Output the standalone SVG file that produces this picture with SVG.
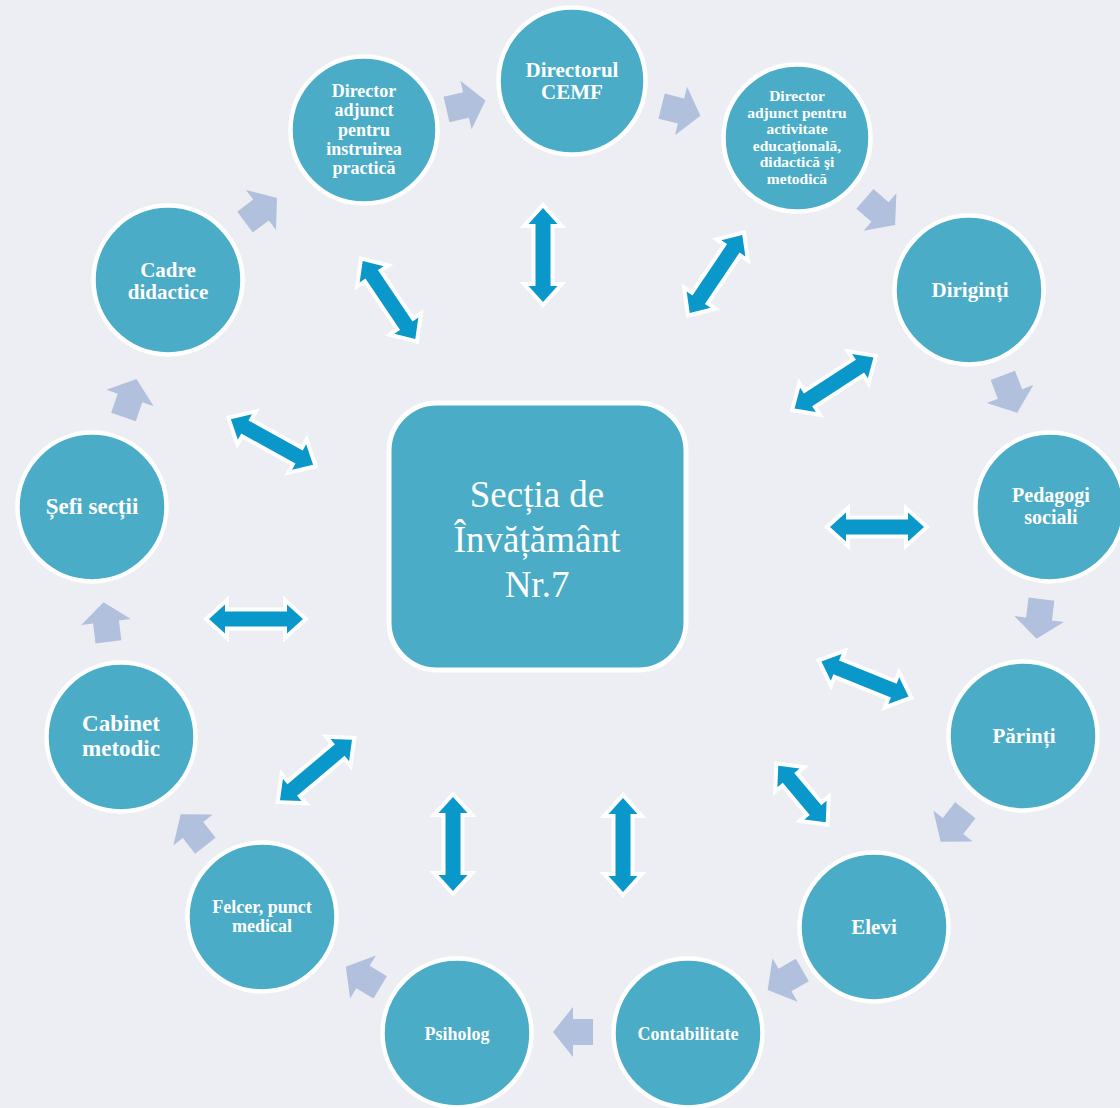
<svg xmlns="http://www.w3.org/2000/svg" xmlns:xlink="http://www.w3.org/1999/xlink" width="1120" height="1108" viewBox="0 0 1120 1108">
<style>
.node circle{fill:#4aacc6;stroke:#ffffff;stroke-width:4.5}
.lbl{font-family:"Liberation Serif","Times New Roman",serif;font-weight:bold;fill:#ffffff;text-anchor:middle}
.ctr{font-family:"Liberation Serif","Times New Roman",serif;fill:#ffffff;text-anchor:middle;font-size:37px}
.chev{fill:#b0c0dd}
.dbl{fill:#0a97c9;stroke:#ffffff;stroke-width:8;paint-order:stroke;stroke-linejoin:miter}
</style>
<defs>
<path id="chevron" d="M-20,-13 L0,-13 L0,-25 L20,0 L0,25 L0,13 L-20,13 Z"/>
<path id="dblarrow" d="M-47,0 L-31,-14.5 L-31,-7.5 L31,-7.5 L31,-14.5 L47,0 L31,14.5 L31,7.5 L-31,7.5 L-31,14.5 Z"/>
<path id="dblshort" d="M-37,0 L-21,-14.5 L-21,-7.5 L21,-7.5 L21,-14.5 L37,0 L21,14.5 L21,7.5 L-21,7.5 L-21,14.5 Z"/>
</defs>
<rect x="0" y="0" width="1120" height="1108" fill="#eceef3"/>

<g id="connectors">
<g class="chev">
<use xlink:href="#chevron" href="#chevron" transform="translate(466,105) rotate(-13)"/>
<use xlink:href="#chevron" href="#chevron" transform="translate(681,111) rotate(14)"/>
<use xlink:href="#chevron" href="#chevron" transform="translate(880,212) rotate(41)"/>
<use xlink:href="#chevron" href="#chevron" transform="translate(1010,394) rotate(69)"/>
<use xlink:href="#chevron" href="#chevron" transform="translate(1039,619) rotate(97)"/>
<use xlink:href="#chevron" href="#chevron" transform="translate(953,826) rotate(128)"/>
<use xlink:href="#chevron" href="#chevron" transform="translate(785,980) rotate(150)"/>
<use xlink:href="#chevron" href="#chevron" transform="translate(573,1032) rotate(180)"/>
<use xlink:href="#chevron" href="#chevron" transform="translate(363,977) rotate(-149)"/>
<use xlink:href="#chevron" href="#chevron" transform="translate(193,830) rotate(-128)"/>
<use xlink:href="#chevron" href="#chevron" transform="translate(106,622) rotate(-97)"/>
<use xlink:href="#chevron" href="#chevron" transform="translate(130,398) rotate(-71)"/>
<use xlink:href="#chevron" href="#chevron" transform="translate(261,210) rotate(-37)"/>
</g>
<g class="dbl">
<use xlink:href="#dblarrow" href="#dblarrow" transform="translate(543,255) rotate(90)"/>
<use xlink:href="#dblarrow" href="#dblarrow" transform="translate(389,300) rotate(56)"/>
<use xlink:href="#dblarrow" href="#dblarrow" transform="translate(716,274) rotate(-56)"/>
<use xlink:href="#dblarrow" href="#dblarrow" transform="translate(834,383) rotate(-33)"/>
<use xlink:href="#dblarrow" href="#dblarrow" transform="translate(877,527)"/>
<use xlink:href="#dblarrow" href="#dblarrow" transform="translate(865,679) rotate(22)"/>
<use xlink:href="#dblshort" href="#dblshort" transform="translate(802,794) rotate(50)"/>
<use xlink:href="#dblarrow" href="#dblarrow" transform="translate(623,845) rotate(90)"/>
<use xlink:href="#dblarrow" href="#dblarrow" transform="translate(453,844) rotate(90)"/>
<use xlink:href="#dblarrow" href="#dblarrow" transform="translate(316,770) rotate(-40)"/>
<use xlink:href="#dblarrow" href="#dblarrow" transform="translate(256,619)"/>
<use xlink:href="#dblarrow" href="#dblarrow" transform="translate(272,442) rotate(29)"/>
</g>
</g>

<g id="center">
<rect x="389" y="403" width="297" height="267" rx="48" ry="48" fill="#4aacc6" stroke="#ffffff" stroke-width="5"/>
<text class="ctr" x="537" y="507">Secția de</text>
<text class="ctr" x="537" y="552">Învățământ</text>
<text class="ctr" x="537" y="597">Nr.7</text>
</g>

<g id="n-directorul" class="node">
<circle cx="572" cy="81" r="73.5"/>
<text class="lbl" font-size="21" x="572" y="77">Directorul</text>
<text class="lbl" font-size="21" x="572" y="99">CEMF</text>
</g>
<g id="n-adj-practica" class="node">
<circle cx="364" cy="130" r="73.5"/>
<text class="lbl" font-size="18" x="364" y="97">Director</text>
<text class="lbl" font-size="18" x="364" y="116">adjunct</text>
<text class="lbl" font-size="18" x="364" y="136">pentru</text>
<text class="lbl" font-size="18" x="364" y="155">instruirea</text>
<text class="lbl" font-size="18" x="364" y="174">practică</text>
</g>
<g id="n-adj-educ" class="node">
<circle cx="797" cy="138" r="73.5"/>
<text class="lbl" font-size="15.5" x="797" y="101">Director</text>
<text class="lbl" font-size="15.5" x="797" y="118">adjunct pentru</text>
<text class="lbl" font-size="15.5" x="797" y="134">activitate</text>
<text class="lbl" font-size="15.5" x="797" y="151">educaţională,</text>
<text class="lbl" font-size="15.5" x="797" y="167">didactică şi</text>
<text class="lbl" font-size="15.5" x="797" y="184">metodică</text>
</g>
<g id="n-diriginti" class="node">
<circle cx="969" cy="290" r="74.5"/>
<text class="lbl" font-size="21" x="970" y="297">Diriginți</text>
</g>
<g id="n-pedagogi" class="node">
<circle cx="1050" cy="507" r="74.5"/>
<text class="lbl" font-size="20" x="1051" y="502">Pedagogi</text>
<text class="lbl" font-size="20" x="1051" y="524">sociali</text>
</g>
<g id="n-parinti" class="node">
<circle cx="1023" cy="736" r="74.5"/>
<text class="lbl" font-size="21" x="1024" y="743">Părinți</text>
</g>
<g id="n-elevi" class="node">
<circle cx="874" cy="927" r="74.5"/>
<text class="lbl" font-size="21" x="874" y="934">Elevi</text>
</g>
<g id="n-contabilitate" class="node">
<circle cx="688" cy="1033" r="74.5"/>
<text class="lbl" font-size="18" x="688" y="1040">Contabilitate</text>
</g>
<g id="n-psiholog" class="node">
<circle cx="457" cy="1033" r="74.5"/>
<text class="lbl" font-size="18" x="457" y="1040">Psiholog</text>
</g>
<g id="n-felcer" class="node">
<circle cx="262" cy="917" r="74.5"/>
<text class="lbl" font-size="18" x="262" y="913">Felcer, punct</text>
<text class="lbl" font-size="18" x="262" y="932">medical</text>
</g>
<g id="n-cabinet" class="node">
<circle cx="121" cy="737" r="74.5"/>
<text class="lbl" font-size="23" x="121" y="731">Cabinet</text>
<text class="lbl" font-size="23" x="121" y="756">metodic</text>
</g>
<g id="n-sefi" class="node">
<circle cx="92" cy="507" r="74.5"/>
<text class="lbl" font-size="23" x="92" y="514">Șefi secții</text>
</g>
<g id="n-cadre" class="node">
<circle cx="168" cy="280" r="74.5"/>
<text class="lbl" font-size="21" x="168" y="277">Cadre</text>
<text class="lbl" font-size="21" x="168" y="299">didactice</text>
</g>
</svg>
